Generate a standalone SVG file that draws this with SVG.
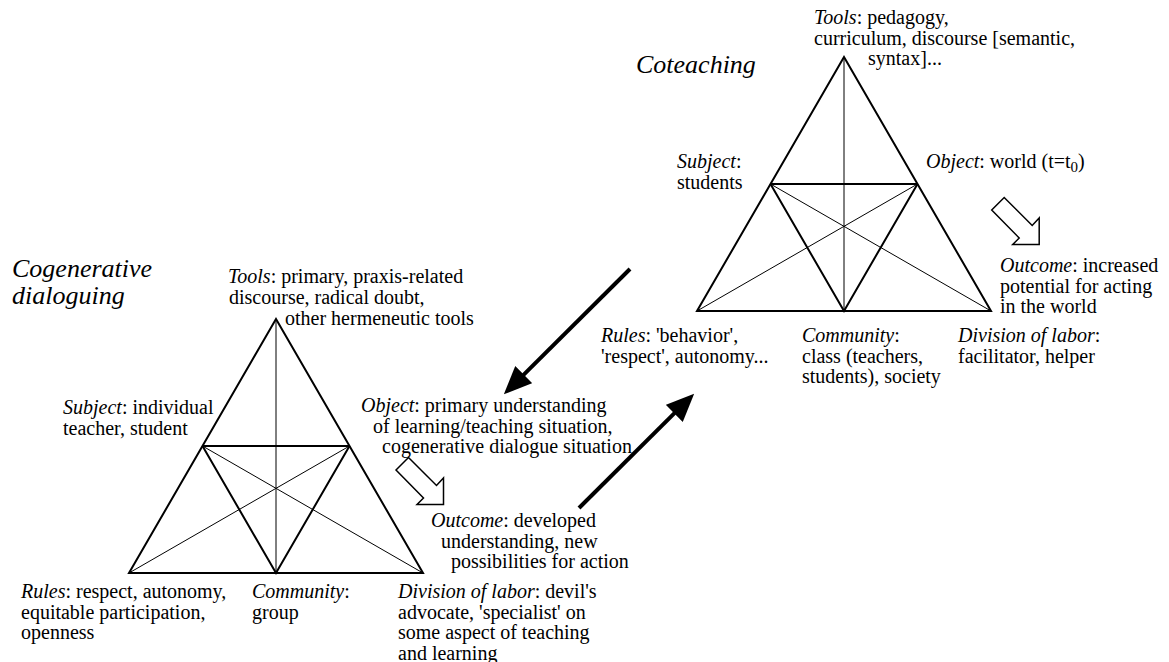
<svg xmlns="http://www.w3.org/2000/svg" xmlns:xlink="http://www.w3.org/1999/xlink" width="1169" height="662" viewBox="0 0 1169 662">
<style>
.t{font-family:"Liberation Serif","Times New Roman",serif;font-size:20px;fill:#000}
.it{font-style:italic}
.title{font-family:"Liberation Serif","Times New Roman",serif;font-size:26px;font-style:italic;fill:#000}
.thick{stroke:#000;stroke-width:2;fill:none;stroke-linejoin:miter}
.thin{stroke:#000;stroke-width:1;fill:none}
.flow{stroke:#000;stroke-width:4;fill:none}
.hollow{fill:#fff;stroke:#000;stroke-width:1.5;stroke-linejoin:miter}
</style>
<defs>
<g id="tri">
<polygon class="thick" points="0,0 -147,254 147,254"/>
<line class="thick" x1="-73.5" y1="127" x2="73.5" y2="127"/>
<polyline class="thick" points="-73.5,127 0,254 73.5,127"/>
<line class="thin" x1="0" y1="0" x2="0" y2="254"/>
<line class="thin" x1="-147" y1="254" x2="73.5" y2="127"/>
<line class="thin" x1="147" y1="254" x2="-73.5" y2="127"/>
</g>
<path id="blockarrow" d="M0,0 L12.5,-12.5 L40.5,15.5 L47.5,8 L47.5,34.5 L21,34.5 L27.5,28 Z"/>
<marker id="head" viewBox="0 0 28 24" refX="1" refY="12" markerWidth="28" markerHeight="24" markerUnits="userSpaceOnUse" orient="auto">
<path d="M0,0 L28,12 L0,24 Z" fill="#000"/>
</marker>
</defs>
<rect width="1169" height="662" fill="#fff"/>

<g id="cogen-triangle"><use xlink:href="#tri" href="#tri" x="276" y="319"/></g>
<g id="cot-triangle"><use xlink:href="#tri" href="#tri" x="844" y="57"/></g>

<g id="cogen-title"><text class="title"><tspan x="12" y="277">Cogenerative</tspan><tspan x="12" y="304">dialoguing</tspan></text></g>
<g id="cogen-tools"><text class="t"><tspan x="228" y="283"><tspan class="it">Tools</tspan>: primary, praxis-related</tspan><tspan x="229" y="304">discourse, radical doubt,</tspan><tspan x="285" y="325">other hermeneutic tools</tspan></text></g>
<g id="cogen-subject"><text class="t"><tspan x="63" y="414"><tspan class="it">Subject</tspan>: individual</tspan><tspan x="63" y="434.5">teacher, student</tspan></text></g>
<g id="cogen-object"><text class="t"><tspan x="361" y="412"><tspan class="it">Object</tspan>: primary understanding</tspan><tspan x="373" y="432.5">of learning/teaching situation,</tspan><tspan x="382" y="453">cogenerative dialogue situation</tspan></text></g>
<g id="cogen-outcome"><text class="t"><tspan x="431" y="527"><tspan class="it">Outcome</tspan>: developed</tspan><tspan x="441" y="547.5">understanding, new</tspan><tspan x="451" y="568">possibilities for action</tspan></text></g>
<g id="cogen-rules"><text class="t"><tspan x="21" y="598"><tspan class="it">Rules</tspan>: respect, autonomy,</tspan><tspan x="21" y="618.5">equitable participation,</tspan><tspan x="21" y="639">openness</tspan></text></g>
<g id="cogen-community"><text class="t"><tspan x="252" y="598"><tspan class="it">Community</tspan>:</tspan><tspan x="252" y="618.5">group</tspan></text></g>
<g id="cogen-division"><text class="t"><tspan x="398" y="598"><tspan class="it">Division of labor</tspan>: devil's</tspan><tspan x="398" y="618.5">advocate, 'specialist' on</tspan><tspan x="398" y="639">some aspect of teaching</tspan><tspan x="398" y="659.5">and learning</tspan></text></g>

<g id="cot-title"><text class="title" x="636" y="73">Coteaching</text></g>
<g id="cot-tools"><text class="t"><tspan x="814" y="24"><tspan class="it">Tools</tspan>: pedagogy,</tspan><tspan x="814" y="44.5">curriculum, discourse [semantic,</tspan><tspan x="868" y="65">syntax]...</tspan></text></g>
<g id="cot-subject"><text class="t"><tspan x="677" y="168"><tspan class="it">Subject</tspan>:</tspan><tspan x="677" y="188.5">students</tspan></text></g>
<g id="cot-object"><text class="t" x="926" y="168"><tspan class="it">Object</tspan>: world (t=t<tspan font-size="15" dy="4">0</tspan><tspan dy="-4">)</tspan></text></g>
<g id="cot-outcome"><text class="t"><tspan x="1000" y="272"><tspan class="it">Outcome</tspan>: increased</tspan><tspan x="1000" y="292.5">potential for acting</tspan><tspan x="1000" y="313">in the world</tspan></text></g>
<g id="cot-rules"><text class="t"><tspan x="601" y="342"><tspan class="it">Rules</tspan>: 'behavior',</tspan><tspan x="601" y="362.5">'respect', autonomy...</tspan></text></g>
<g id="cot-community"><text class="t"><tspan x="802" y="342"><tspan class="it">Community</tspan>:</tspan><tspan x="802" y="362.5">class (teachers,</tspan><tspan x="802" y="383">students), society</tspan></text></g>
<g id="cot-division"><text class="t"><tspan x="958" y="342"><tspan class="it">Division of labor</tspan>:</tspan><tspan x="958" y="362.5">facilitator, helper</tspan></text></g>

<g id="connectors">
<line class="flow" x1="630" y1="269" x2="523" y2="375.3" marker-end="url(#head)"/>
<line class="flow" x1="579" y1="508" x2="675" y2="412.7" marker-end="url(#head)"/>
<use xlink:href="#blockarrow" href="#blockarrow" class="hollow" x="396" y="470"/>
<use xlink:href="#blockarrow" href="#blockarrow" class="hollow" x="991.7" y="210"/>
</g>
</svg>
